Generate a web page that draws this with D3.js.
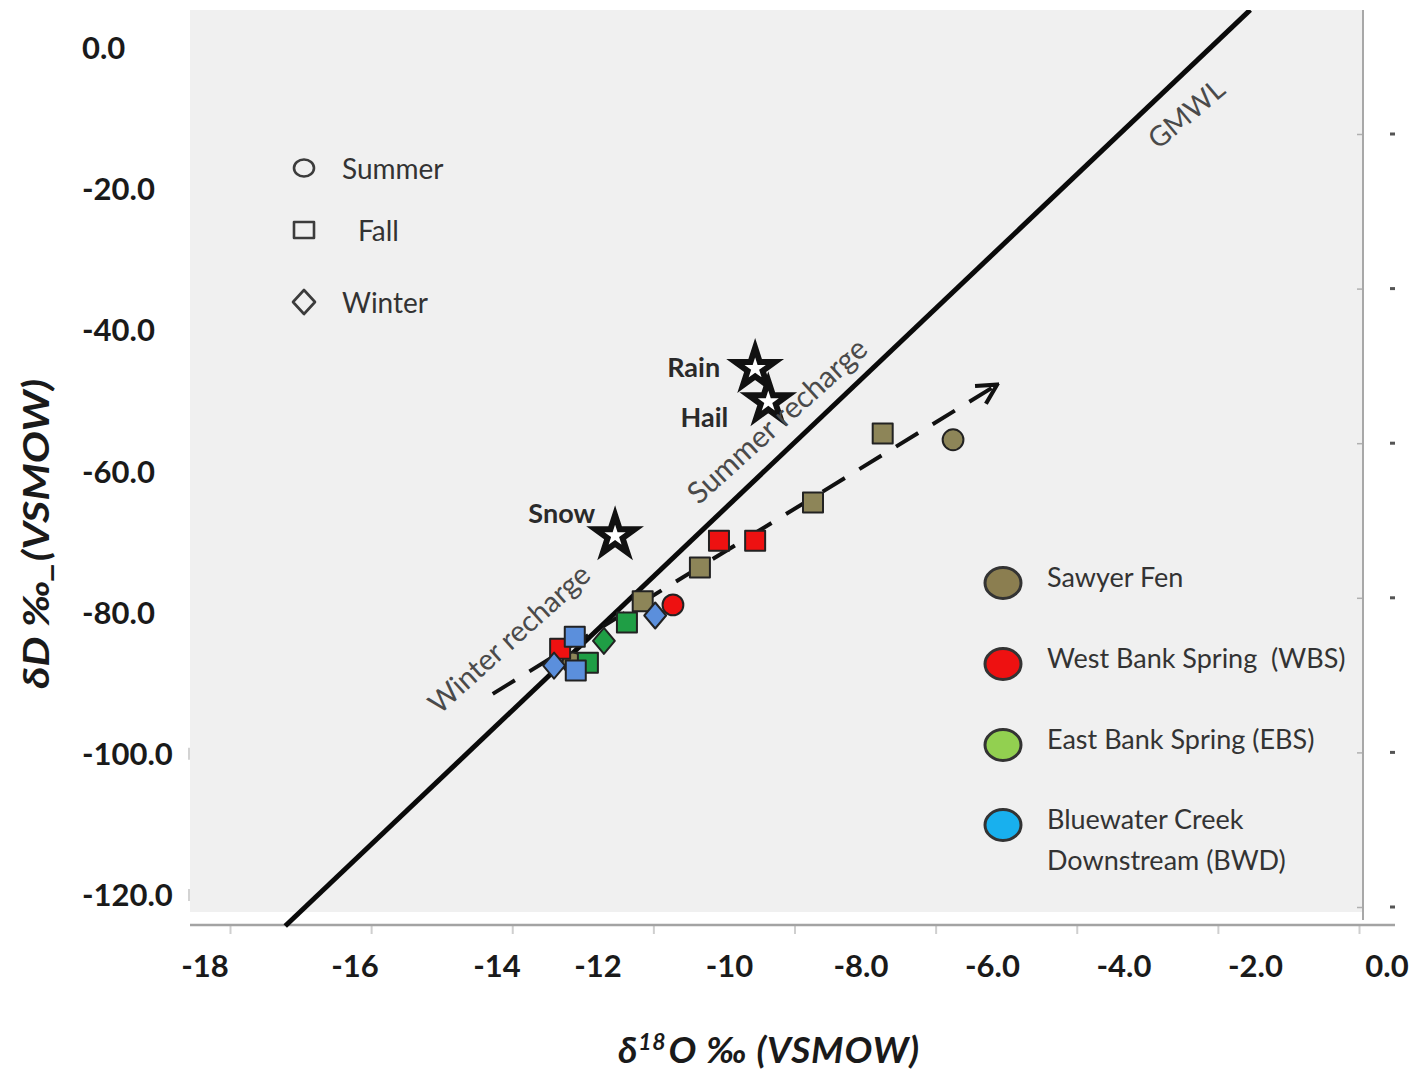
<!DOCTYPE html>
<html>
<head>
<meta charset="utf-8">
<script src="https://cdn.jsdelivr.net/npm/d3@7"></script>
<style>
  body { margin: 0; background: #fff; }
  svg { display: block; font-family: Lato, "Open Sans", sans-serif; }
</style>
</head>
<body>
<div id="chart"></div>
<script>
// ----- data ----- //

var xTickVals = [-18, -16, -14, -12, -10, -8, -6, -4, -2, 0];
var xTickText = ["-18", "-16", "-14", "-12", "-10", "-8.0", "-6.0", "-4.0", "-2.0", "0.0"];
var yTickVals = [0, -20, -40, -60, -80, -100, -120];
var yTickText = ["0.0", "-20.0", "-40.0", "-60.0", "-80.0", "-100.0", "-120.0"];

var sites = ["Sawyer Fen", "West Bank Spring  (WBS)", "East Bank Spring (EBS)", "Bluewater Creek|Downstream (BWD)"];
var seasons = ["Summer", "Fall", "Winter"];

// sample points: d18O, dD, season
var sawyerO = [-7.67, -6.60, -8.73, -10.45, -11.32, -12.50];
var sawyerD = [-54.6, -55.5, -64.4, -73.6, -78.4, -87.1];
var sawyerS = ["Fall", "Summer", "Fall", "Fall", "Fall", "Summer"];

var wbsO = [-10.16, -9.61, -10.86, -12.75];
var wbsD = [-69.8, -69.8, -78.9, -85.1];
var wbsS = ["Fall", "Fall", "Summer", "Fall"];

var ebsO = [-11.56, -11.91, -12.20];
var ebsD = [-81.4, -84.0, -87.1];
var ebsS = ["Fall", "Winter", "Fall"];

var bwdO = [-11.13, -12.46, -12.87, -12.44];
var bwdD = [-80.4, -83.4, -87.5, -88.2];
var bwdS = ["Winter", "Fall", "Winter", "Fall"];

// precipitation
var precipName = ["Rain", "Hail", "Snow"];
var precipO = [-9.61, -9.41, -11.74];
var precipD = [-45.4, -50.1, -69.1];

// GMWL as drawn, and the recharge arrow
var gmwlO = [-16.93, -2.08];
var gmwlD = [-124.4, 5.4];
var arrowO = [-14.06, -5.93];
var arrowD = [-91.5, -47.7];

// frame tick marks (remains of the underlying axes)
var bottomFrameTicks = [0, 1, 2, 3, 4, 5, 6, 7, 8];
var rightFrameTicks = [0, 1, 2, 3, 4, 5];
var leftFrameTicks = [-100, -120];

// ----- styles ----- //
var pointFill = ["#8d8558", "#ee1111", "#1f9e45", "#5b8fdc"];
var legendFill = ["#8b7e50", "#ee1111", "#92d050", "#18b0ee"];

var svg = d3.select("#chart")
    .append("svg")
    .attr("width", 1417)
    .attr("height", 1073)

// ----- scales ----- //
var x = d3.scaleLinear()
    .domain([-18, -16, -14, -12, 0])
    .range([205, 355, 497, 598, 1387]);

var y = d3.scaleLinear()
    .domain([-120, 0])
    .range([895, 48]);

var xFrame = d3.scaleLinear().domain([0, 8]).range([230, 1359]);
var yFrame = d3.scaleLinear().domain([0, 5]).range([907, 134]);

// ----- plot background & frame ----- //
svg.append("rect")
    .attr("x", 190).attr("y", 10)
    .attr("width", 1172).attr("height", 902)
    .attr("fill", "#f0f0f0");

svg.append("clipPath").attr("id", "clip")
    .append("rect")
    .attr("x", 190).attr("y", 10)
    .attr("width", 1172).attr("height", 918);

// bottom axis line with small ticks
var bottomAxis = svg.append("g")
    .attr("transform", "translate(0,925)")
    .call(d3.axisBottom(xFrame).tickValues(bottomFrameTicks).tickSize(9).tickFormat(""));
bottomAxis.select(".domain").remove();
bottomAxis.selectAll("line").attr("stroke", "#cfcfcf").attr("stroke-width", 2);
svg.append("line")
    .attr("x1", 190).attr("x2", 1395)
    .attr("y1", 925).attr("y2", 925)
    .attr("stroke", "#a3a3a3").attr("stroke-width", 2.5);

// right axis
var rightAxis = svg.append("g")
    .attr("transform", "translate(1363,0)")
    .call(d3.axisLeft(yFrame).tickValues(rightFrameTicks).tickSize(6).tickFormat(""));
rightAxis.select(".domain").remove();
rightAxis.selectAll("line").attr("stroke", "#b0b0b0").attr("stroke-width", 1.5);
svg.append("line")
    .attr("x1", 1363).attr("x2", 1363)
    .attr("y1", 10).attr("y2", 920)
    .attr("stroke", "#a8a8a8").attr("stroke-width", 2);
svg.selectAll(".rdot")
    .data(rightFrameTicks)
    .enter()
    .append("rect")
    .attr("class", "rdot")
    .attr("x", 1390).attr("width", 5)
    .attr("y", function (d) { return yFrame(d) - 1.5; })
    .attr("height", 3)
    .attr("fill", "#555");

// faint left ticks
svg.selectAll(".lt")
    .data(leftFrameTicks)
    .enter()
    .append("line")
    .attr("class", "lt")
    .attr("x1", 189).attr("x2", 189)
    .attr("y1", function (d) { return y(d) - 6; })
    .attr("y2", function (d) { return y(d) + 6; })
    .attr("stroke", "#c4c4c4").attr("stroke-width", 1.5);

// ----- tick labels ----- //
svg.selectAll(".xtick")
    .data(xTickVals)
    .enter()
    .append("text")
    .attr("class", "xtick")
    .attr("x", function (d) { return x(d); })
    .attr("y", 977)
    .attr("text-anchor", "middle")
    .attr("font-size", 31)
    .attr("font-weight", "bold")
    .attr("fill", "#1a1a1a")
    .text(function (d, i) { return xTickText[i]; });

svg.selectAll(".ytick")
    .data(yTickVals)
    .enter()
    .append("text")
    .attr("class", "ytick")
    .attr("x", 82)
    .attr("y", function (d) { return y(d); })
    .attr("dy", "0.36em")
    .attr("font-size", 31)
    .attr("font-weight", "bold")
    .attr("fill", "#1a1a1a")
    .text(function (d, i) { return yTickText[i]; });

// axis titles
svg.append("text")
    .attr("transform", "translate(49,534) rotate(-90)")
    .attr("text-anchor", "middle")
    .attr("font-size", 36)
    .attr("font-weight", "bold")
    .attr("font-style", "italic")
    .attr("fill", "#1a1a1a")
    .attr("textLength", 310)
    .attr("lengthAdjust", "spacingAndGlyphs")
    .text("δD ‰_(VSMOW)");

var xt = svg.append("text")
    .attr("x", 769).attr("y", 1063)
    .attr("text-anchor", "middle")
    .attr("font-size", 37)
    .attr("font-weight", "bold")
    .attr("font-style", "italic")
    .attr("fill", "#1a1a1a")
    .attr("letter-spacing", 0.8);
xt.append("tspan").text("δ");
xt.append("tspan").attr("font-size", 23).attr("dy", -13).text("18");
xt.append("tspan").attr("dy", 13).attr("dx", 2).text("O ‰ (VSMOW)");

// ----- GMWL ----- //
var plot = svg.append("g").attr("clip-path", "url(#clip)");

var line = d3.line()
    .x(function (d) { return x(d[0]); })
    .y(function (d) { return y(d[1]); });

plot.append("path")
    .attr("d", line(d3.zip(gmwlO, gmwlD)))
    .attr("fill", "none")
    .attr("stroke", "#0a0a0a")
    .attr("stroke-width", 5);

// ----- recharge arrow ----- //
svg.append("defs").append("marker")
    .attr("id", "arrowhead")
    .attr("markerUnits", "userSpaceOnUse")
    .attr("viewBox", "0 0 20 20")
    .attr("refX", 18).attr("refY", 10)
    .attr("markerWidth", 26).attr("markerHeight", 26)
    .attr("orient", "auto")
    .append("path")
    .attr("d", "M3,2 L18,10 L3,18")
    .attr("fill", "none")
    .attr("stroke", "#111")
    .attr("stroke-width", 3.2);

svg.append("path")
    .attr("d", line(d3.zip(arrowO, arrowD)))
    .attr("fill", "none")
    .attr("stroke", "#111")
    .attr("stroke-width", 4)
    .attr("stroke-dasharray", "26,17")
    .attr("marker-end", "url(#arrowhead)");

// ----- sample points ----- //
var diamond = {
    draw: function (ctx, size) {
        var s = Math.sqrt(size);
        ctx.moveTo(0, -s * 0.62);
        ctx.lineTo(s * 0.52, 0);
        ctx.lineTo(0, s * 0.62);
        ctx.lineTo(-s * 0.52, 0);
        ctx.closePath();
    }
};
var shapeOf = { Summer: d3.symbolCircle, Fall: d3.symbolSquare, Winter: diamond };
var sizeOf = { Summer: 340, Fall: 400, Winter: 440 };

var siteO = [sawyerO, wbsO, ebsO, bwdO];
var siteD = [sawyerD, wbsD, ebsD, bwdD];
var siteS = [sawyerS, wbsS, ebsS, bwdS];

var samples = [];
siteO.forEach(function (arr, k) {
    arr.forEach(function (v, i) {
        samples.push({ site: k, o: v, d: siteD[k][i], season: siteS[k][i] });
    });
});

svg.selectAll(".pt")
    .data(samples)
    .enter()
    .append("path")
    .attr("class", "pt")
    .attr("transform", function (d) { return "translate(" + x(d.o) + "," + y(d.d) + ")"; })
    .attr("d", function (d) { return d3.symbol(shapeOf[d.season], sizeOf[d.season])(); })
    .attr("fill", function (d) { return pointFill[d.site]; })
    .attr("stroke", "#222")
    .attr("stroke-width", 2)
    .attr("stroke-linejoin", "round");

// ----- precipitation stars ----- //
var starLabelDx = [-35, -40, -20];
var starLabelDy = [9, 25, -13];

svg.selectAll(".star")
    .data(precipName)
    .enter()
    .append("path")
    .attr("class", "star")
    .attr("transform", function (d, i) { return "translate(" + x(precipO[i]) + "," + y(precipD[i]) + ")"; })
    .attr("d", d3.symbol(d3.symbolStar, 480)())
    .attr("fill", "#fff")
    .attr("stroke", "#111")
    .attr("stroke-width", 6);

svg.selectAll(".starlab")
    .data(precipName)
    .enter()
    .append("text")
    .attr("class", "starlab")
    .attr("x", function (d, i) { return x(precipO[i]) + starLabelDx[i]; })
    .attr("y", function (d, i) { return y(precipD[i]) + starLabelDy[i]; })
    .attr("text-anchor", "end")
    .attr("font-size", 27)
    .attr("font-weight", "bold")
    .attr("fill", "#2a2a2a")
    .text(function (d) { return d; });

// ----- rotated annotations ----- //
function rotated(txt, cx, cy, ang, fs) {
    svg.append("text")
        .attr("transform", "translate(" + cx + "," + cy + ") rotate(" + ang + ")")
        .attr("text-anchor", "middle")
        .attr("dominant-baseline", "middle")
        .attr("font-size", fs)
        .attr("fill", "#4a4a4a")
        .text(txt);
}
rotated("Winter recharge", 511, 641, -42, 29);
rotated("Summer recharge", 779, 423, -42, 30);
rotated("GMWL", 1188, 116, -40, 28);

// ----- season legend ----- //
var seasonY = [168, 230, 302];
var seasonTextX = [342, 358, 342];

svg.selectAll(".sleg")
    .data(seasons)
    .enter()
    .append("path")
    .attr("class", "sleg")
    .attr("transform", function (d, i) { return "translate(304," + seasonY[i] + ")"; })
    .attr("d", function (d) {
        if (d === "Summer") return "M-10,0 A10,8.5 0 1,0 10,0 A10,8.5 0 1,0 -10,0 Z";
        if (d === "Fall") return "M-10,-8 H10 V8 H-10 Z";
        return "M0,-12 L11,0 L0,12 L-11,0 Z";
    })
    .attr("fill", "none")
    .attr("stroke", "#3c3c3c")
    .attr("stroke-width", 2.6)
    .attr("stroke-linejoin", "round");

svg.selectAll(".sltxt")
    .data(seasons)
    .enter()
    .append("text")
    .attr("class", "sltxt")
    .attr("x", function (d, i) { return seasonTextX[i]; })
    .attr("y", function (d, i) { return seasonY[i] + 11; })
    .attr("font-size", 28)
    .attr("fill", "#333")
    .text(function (d) { return d; });

// ----- site legend ----- //
var legendY = [583, 664, 745, 825];

svg.selectAll(".leg")
    .data(sites)
    .enter()
    .append("ellipse")
    .attr("class", "leg")
    .attr("cx", 1003)
    .attr("cy", function (d, i) { return legendY[i]; })
    .attr("rx", 18).attr("ry", 15.5)
    .attr("fill", function (d, i) { return legendFill[i]; })
    .attr("stroke", "#333")
    .attr("stroke-width", 3);

svg.selectAll(".legtxt")
    .data(sites)
    .enter()
    .append("text")
    .attr("class", "legtxt")
    .attr("x", 1047)
    .attr("y", function (d, i) { return legendY[i] + 4; })
    .attr("font-size", 27)
    .attr("fill", "#333")
    .each(function (d) {
        var parts = d.split("|");
        var t = d3.select(this);
        parts.forEach(function (p, j) {
            t.append("tspan")
                .attr("x", 1047)
                .attr("dy", j === 0 ? 0 : 41)
                .attr("xml:space", "preserve")
                .text(p);
        });
    });
</script>
</body>
</html>
